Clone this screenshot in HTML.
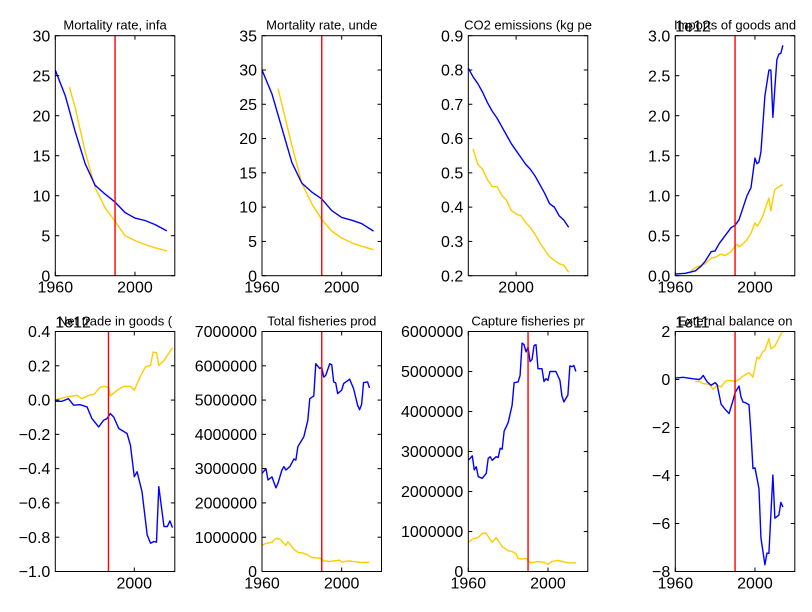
<!DOCTYPE html>
<html><head><meta charset="utf-8"><style>
html,body{margin:0;padding:0;background:#fff;}
svg{display:block;font-family:"Liberation Sans",Arial,sans-serif;}
</style></head><body>
<svg id="fig" width="812" height="612" viewBox="0 0 812 612" xmlns="http://www.w3.org/2000/svg"></svg>
<script>
// ---- data ----
const infBlueYears=[1960,1965,1970,1975,1980,1985,1990,1995,2000,2005,2010,2016];
const infBlueVals=[25.7,22.5,18,14,11.3,10.2,9.2,7.9,7.2,6.9,6.4,5.6];
const infGoldYears=[1967,1970,1975,1980,1985,1990,1995,2000,2005,2010,2016];
const infGoldVals=[23.6,21,15.5,11,8.5,6.8,5,4.4,3.9,3.5,3.1];
const u5BlueYears=[1960,1965,1970,1975,1980,1985,1990,1995,2000,2005,2010,2016];
const u5BlueVals=[30,26.5,21.5,16.5,13.5,12.2,11.2,9.5,8.5,8.1,7.6,6.5];
const u5GoldYears=[1968,1970,1975,1980,1985,1990,1995,2000,2005,2010,2016];
const u5GoldVals=[27.3,25,19,13.5,10.5,8.2,6.5,5.5,4.8,4.3,3.8];
const co2BlueYears=[1990,1991,1992,1993,1994,1995,1996,1997,1998,1999,2000,2001,2002,2003,2004,2005,2006,2007,2008,2009,2010,2011];
const co2BlueVals=[0.805,0.78,0.76,0.735,0.705,0.68,0.66,0.635,0.61,0.585,0.565,0.545,0.525,0.51,0.49,0.465,0.44,0.41,0.4,0.375,0.362,0.341];
const co2GoldYears=[1991,1992,1993,1994,1995,1996,1997,1998,1999,2000,2001,2002,2003,2004,2005,2006,2007,2008,2009,2010,2011];
const co2GoldVals=[0.57,0.525,0.51,0.48,0.46,0.46,0.435,0.42,0.39,0.38,0.375,0.355,0.34,0.32,0.295,0.275,0.255,0.245,0.235,0.23,0.21];
const impBlueYears=[1960,1965,1970,1973,1975,1978,1980,1982,1985,1988,1990,1992,1994,1996,1998,2000,2001,2002,2003,2005,2007,2008,2009,2010,2011,2012,2013,2014];
const impBlueVals=[0.02,0.03,0.06,0.12,0.18,0.3,0.31,0.4,0.5,0.6,0.63,0.7,0.85,1.0,1.1,1.47,1.4,1.42,1.55,2.25,2.57,2.57,1.98,2.35,2.7,2.77,2.78,2.88];
const impGoldYears=[1968,1970,1973,1975,1978,1980,1983,1985,1988,1990,1991,1992,1994,1996,1998,2000,2001,2002,2004,2006,2007,2008,2009,2010,2012,2014];
const impGoldVals=[0.06,0.1,0.13,0.15,0.22,0.23,0.27,0.25,0.3,0.37,0.39,0.36,0.4,0.45,0.53,0.66,0.62,0.65,0.75,0.9,0.97,0.81,0.96,1.08,1.11,1.14];
const netBlueYears=[1969.5,1972,1974.5,1976.5,1979,1981.7,1983.6,1986.2,1988.1,1989.4,1990.7,1992,1994,1997.2,1998.5,2000,2001.1,2003,2005,2006.3,2007.6,2008.6,2009.5,2011.5,2012.8,2013.8,2014.8];
const netBlueVals=[-0.007,-0.007,0.008,-0.03,-0.027,-0.04,-0.108,-0.157,-0.118,-0.108,-0.079,-0.098,-0.166,-0.195,-0.263,-0.447,-0.418,-0.535,-0.787,-0.835,-0.825,-0.829,-0.505,-0.738,-0.738,-0.705,-0.744];
const netGoldYears=[1969.5,1973.9,1977.8,1979.7,1982.3,1984.3,1986.9,1988.8,1990.1,1990.7,1993.3,1995.9,1998.5,2000,2002.4,2004.3,2006.3,2007.3,2008.6,2009.5,2011.5,2014.8];
const netGoldVals=[0.002,0.018,0.028,0.008,0.028,0.032,0.076,0.08,0.072,0.024,0.057,0.08,0.08,0.057,0.14,0.193,0.202,0.28,0.276,0.202,0.231,0.305];
const totBlueYears=[1960,1962,1963,1965,1967,1968,1970,1971,1972,1974,1976,1977,1978,1981,1983,1984,1986,1987,1989,1990,1991,1992,1994,1995,1996,1997,1998,2000,2001,2004,2006,2008,2009,2010,2011,2013,2014];
const totBlueVals=[2.86,3.0,2.67,2.76,2.44,2.57,2.96,3.06,2.96,3.06,3.28,3.25,3.64,3.93,4.41,5.04,5.12,6.06,5.92,5.96,5.67,5.72,6.06,6.03,5.53,5.5,5.19,5.29,5.48,5.61,5.33,4.85,4.72,4.87,5.51,5.53,5.35];
const totGoldYears=[1960,1962,1965,1967,1969,1971,1972,1973,1976,1978,1981,1983,1985,1988,1989,1991,1994,1996,1999,2000,2003,2006,2010,2014];
const totGoldVals=[0.76,0.82,0.85,0.97,0.94,0.82,0.76,0.87,0.65,0.56,0.53,0.48,0.41,0.39,0.39,0.31,0.29,0.31,0.33,0.27,0.31,0.29,0.26,0.27];
const capBlueYears=[1960,1962,1963,1964,1965,1967,1969,1970,1971,1972,1974,1975,1976,1977,1978,1980,1982,1983,1985,1986,1987,1988,1989,1990,1991,1992,1993,1994,1995,1997,1998,1999,2000,2001,2004,2006,2007,2008,2010,2011,2012,2013,2014];
const capBlueVals=[2.78,2.89,2.54,2.62,2.37,2.33,2.45,2.83,2.87,2.78,2.87,2.85,3.08,3.06,3.51,3.72,4.16,4.72,4.74,4.9,5.71,5.67,5.49,5.61,5.25,5.3,5.65,5.67,5.07,5.07,4.75,4.82,4.78,5.0,5.0,4.78,4.39,4.24,4.41,5.14,5.12,5.15,5.0];
const capGoldYears=[1960,1962,1965,1967,1969,1970,1972,1974,1977,1980,1982,1984,1985,1987,1989,1991,1993,1995,1998,2000,2002,2005,2009,2011,2014];
const capGoldVals=[0.73,0.81,0.85,0.95,0.96,0.87,0.73,0.85,0.62,0.52,0.5,0.44,0.33,0.31,0.33,0.22,0.23,0.25,0.23,0.18,0.25,0.28,0.23,0.21,0.22];
const extBlueYears=[1960,1964,1969,1972,1973,1974,1976,1978,1980,1981,1983,1985,1987,1988,1989,1990,1992,1993,1994,1995,1997,1998,1999,2000,2002,2003,2005,2006,2007,2009,2010,2012,2013,2014];
const extBlueVals=[0.06,0.09,0.03,0.0,0.06,0.17,-0.1,-0.24,-0.13,-0.22,-1.03,-1.24,-1.42,-1.14,-0.87,-0.55,-0.27,-0.73,-0.94,-0.96,-1.05,-2.25,-3.71,-3.68,-4.54,-6.6,-7.72,-7.24,-7.24,-3.98,-5.78,-5.65,-5.12,-5.31];
const extGoldYears=[1970,1972,1974,1977,1979,1981,1983,1985,1986,1988,1990,1992,1994,1997,1999,2001,2002,2004,2005,2007,2008,2010,2012,2013,2014];
const extGoldVals=[-0.08,-0.08,-0.17,-0.2,-0.41,-0.24,-0.31,-0.1,-0.04,-0.05,-0.08,0.0,0.14,0.28,0.1,0.93,0.86,1.17,1.21,1.7,1.28,1.39,1.72,1.9,2.0];

const titles=["Mortality rate, infa","Mortality rate, unde","CO2 emissions (kg pe","Imports of goods and","Net trade in goods (","Total fisheries prod","Capture fisheries pr","External balance on"];
const yTicks1=[0,5,10,15,20,25,30];
const yTicks2=[0,5,10,15,20,25,30,35];
const yTicks3=[0.2,0.3,0.4,0.5,0.6,0.7,0.8,0.9];
const yTicks4=[0,0.5,1,1.5,2,2.5,3];
const yLabels4=["0.0","0.5","1.0","1.5","2.0","2.5","3.0"];
const yTicks5=[-1,-0.8,-0.6,-0.4,-0.2,0,0.2,0.4];
const yLabels5=["\u22121.0","\u22120.8","\u22120.6","\u22120.4","\u22120.2","0.0","0.2","0.4"];
const yTicks6=[0,1,2,3,4,5,6,7];
const yLabels6=["0","1000000","2000000","3000000","4000000","5000000","6000000","7000000"];
const yTicks7=[0,1,2,3,4,5,6];
const yLabels7=["0","1000000","2000000","3000000","4000000","5000000","6000000"];
const yTicks8=[-8,-6,-4,-2,0,2];
const yLabels8=["\u22128","\u22126","\u22124","\u22122","0","2"];
const xTicksFull=[1960,2000];
const xTicksLate=[2000];
const markerYear=1990;

// ---- layout ----
const NS="http://www.w3.org/2000/svg";
const svg=document.getElementById('fig');
const colL=[55.3,262,468.3,675.3], rowT=[35.7,331.5], AW=119.5, AH=240;
const BLUE="#0000ff", GOLD="#ffcc00";
const panels=[
 {xd:[1960,2020],yd:[0,30],yt:yTicks1,yl:null,xt:xTicksFull,s:[[infGoldYears,infGoldVals,GOLD],[infBlueYears,infBlueVals,BLUE]]},
 {xd:[1960,2020],yd:[0,35],yt:yTicks2,yl:null,xt:xTicksFull,s:[[u5GoldYears,u5GoldVals,GOLD],[u5BlueYears,u5BlueVals,BLUE]]},
 {xd:[1990,2015],yd:[0.2,0.9],yt:yTicks3,yl:null,xt:xTicksLate,s:[[co2GoldYears,co2GoldVals,GOLD],[co2BlueYears,co2BlueVals,BLUE]]},
 {xd:[1960,2020],yd:[0,3],yt:yTicks4,yl:yLabels4,xt:xTicksFull,off:"1e12",s:[[impGoldYears,impGoldVals,GOLD],[impBlueYears,impBlueVals,BLUE]]},
 {xd:[1969.4,2015.7],yd:[-1,0.4],yt:yTicks5,yl:yLabels5,xt:xTicksLate,off:"1e12",s:[[netGoldYears,netGoldVals,GOLD],[netBlueYears,netBlueVals,BLUE]]},
 {xd:[1960,2020],yd:[0,7],yt:yTicks6,yl:yLabels6,xt:xTicksFull,s:[[totGoldYears,totGoldVals,GOLD],[totBlueYears,totBlueVals,BLUE]]},
 {xd:[1960,2020],yd:[0,6],yt:yTicks7,yl:yLabels7,xt:xTicksFull,s:[[capGoldYears,capGoldVals,GOLD],[capBlueYears,capBlueVals,BLUE]]},
 {xd:[1960,2020],yd:[-8,2],yt:yTicks8,yl:yLabels8,xt:xTicksFull,off:"1e11",s:[[extGoldYears,extGoldVals,GOLD],[extBlueYears,extBlueVals,BLUE]]}
];
function mk(tag,attrs,parent){const e=document.createElementNS(NS,tag);for(const k in attrs)e.setAttribute(k,attrs[k]);(parent||svg).appendChild(e);return e;}
const defs=mk('defs',{});
panels.forEach((p,i)=>{
  const L=colL[i%4], T=rowT[Math.floor(i/4)];
  const xs=v=>L+(v-p.xd[0])/(p.xd[1]-p.xd[0])*AW;
  const ys=v=>T+AH-(v-p.yd[0])/(p.yd[1]-p.yd[0])*AH;
  const g=mk('g',{});
  
  
  const cp=mk('clipPath',{id:'c'+i},defs);
  mk('rect',{x:L,y:T,width:AW,height:AH},cp);
  const plot=mk('g',{'clip-path':'url(#c'+i+')'},g);
  p.s.forEach((s,k)=>{
    const d=s[0].map((yr,j)=>(j?'L':'M')+xs(yr).toFixed(2)+','+ys(s[1][j]).toFixed(2)).join('');
    const path=mk('path',{d:d,fill:'none',stroke:s[2],'stroke-width':1.4,'stroke-linejoin':'round'},plot);
    
    
  });
  if(markerYear>p.xd[0]&&markerYear<p.xd[1]){
    const vx=xs(markerYear);
    const red=mk('line',{x1:vx,x2:vx,y1:T,y2:T+AH,stroke:'#ff0000','stroke-width':1.4},plot);
    
    
  }
  p.yt.forEach((v,j)=>{
    const y=ys(v);
    mk('line',{x1:L,x2:L+4,y1:y,y2:y,stroke:'#000','stroke-width':1},g);
    mk('line',{x1:L+AW-4,x2:L+AW,y1:y,y2:y,stroke:'#000','stroke-width':1},g);
    const t=mk('text',{x:L-5,y:y+5.6,'text-anchor':'end','font-size':16,fill:'#000'},g);
    t.textContent=p.yl?p.yl[j]:String(v);
    
    
  });
  p.xt.forEach(v=>{
    const x=xs(v);
    mk('line',{x1:x,x2:x,y1:T+AH,y2:T+AH-4,stroke:'#000','stroke-width':1},g);
    mk('line',{x1:x,x2:x,y1:T,y2:T+4,stroke:'#000','stroke-width':1},g);
    const t=mk('text',{x:x,y:T+AH+17,'text-anchor':'middle','font-size':16,fill:'#000'},g);
    t.textContent=String(v);
    
    
  });
  const fr=mk('rect',{x:L,y:T,width:AW,height:AH,fill:'none',stroke:'#000','stroke-width':1},g);
  
  
  const tt=mk('text',{x:L+AW/2,y:T-6,'text-anchor':'middle','font-size':13,fill:'#000'},g);
  tt.textContent=titles[i];
  
  
  if(p.off){
    const o=mk('text',{x:L,y:T-4,'font-size':16,fill:'#000'},g);
    o.textContent=p.off;
    
    
  }
});
</script>
</body></html>
